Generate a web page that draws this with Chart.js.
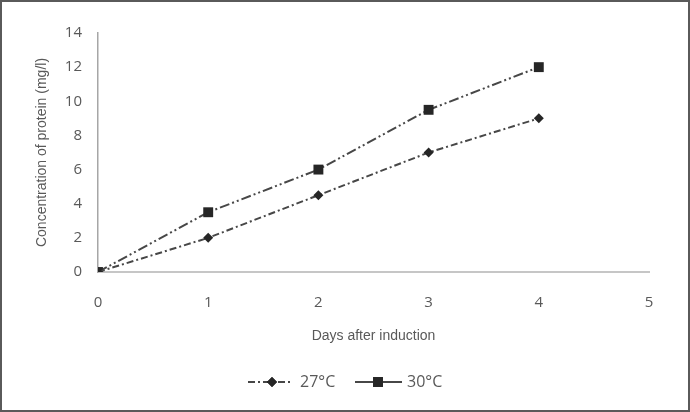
<!DOCTYPE html>
<html>
<head>
<meta charset="utf-8">
<script src="https://cdn.jsdelivr.net/npm/chart.js@4/dist/chart.umd.min.js"></script>
<style>
 html,body{margin:0;padding:0;background:#fff;}
 #wrap{position:relative;width:690px;height:412px;}
</style>
</head>
<body>
<div id="wrap"><canvas id="chart" width="690" height="412"></canvas></div>
<script>
// values
const days = [0, 1, 2, 3, 4];
const t27 = [0, 2, 4.5, 7, 9];
const t30 = [0, 3.5, 6, 9.5, 12];
const seriesNames = ['27°C', '30°C'];
const xTitle = 'Days after induction';
const yTitle = 'Concentration of protein (mg/l)';

const txt = '#595959';
const fam = '"Open Sans", "Liberation Sans", sans-serif';
const titleFam = '"Liberation Sans", Arial, sans-serif';
const pts = (ys) => days.map((d, i) => ({x: d, y: ys[i]}));

// frame + line/marker legend under the plot
const extras = {
 id: 'extras',
 afterDraw(c){
  const ctx = c.ctx;
  ctx.save();
  ctx.strokeStyle = '#5a5a5a'; ctx.lineWidth = 2;
  ctx.strokeRect(1, 1, 688, 410);
  const items = [[248, 272, 293, 300, [7, 3, 2, 3]], [355, 378, 402, 407, []]];
  const y = 382;
  c.data.datasets.forEach((ds, i) => {
   const [x0, xm, x1, tx, dash] = items[i];
   ctx.strokeStyle = ds.borderColor; ctx.lineWidth = ds.borderWidth;
   ctx.setLineDash(dash);
   ctx.beginPath(); ctx.moveTo(x0, y); ctx.lineTo(x1, y); ctx.stroke();
   ctx.setLineDash([]);
   Chart.helpers.drawPoint(ctx, {pointStyle: ds.pointStyle, radius: ds.pointRadius, borderWidth: 0}, xm, y);
   ctx.fillStyle = ds.pointBackgroundColor;
   ctx.fill();
   ctx.fillStyle = txt; ctx.font = '16px ' + fam; ctx.textBaseline = 'middle';
   ctx.fillText(ds.label, tx, y);
  });
  ctx.restore();
 }
};

new Chart(document.getElementById('chart'), {
 type: 'line',
 data: {
  datasets: [
   {label: seriesNames[0], data: pts(t27), borderColor: '#474747', borderWidth: 2,
    borderDash: [7, 3, 2, 3], pointStyle: 'rectRot', pointRadius: 5,
    pointBackgroundColor: '#262626', pointBorderWidth: 0},
   {label: seriesNames[1], data: pts(t30), borderColor: '#474747', borderWidth: 2,
    borderDash: [10, 3, 2, 3, 2, 3], pointStyle: 'rect', pointRadius: 7,
    pointBackgroundColor: '#262626', pointBorderWidth: 0}
  ]
 },
 options: {
  responsive: false, animation: false,
  layout: {padding: {left: 0, top: 33, right: 41, bottom: 60}},
  plugins: {legend: {display: false}, tooltip: {enabled: false}},
  scales: {
   x: {type: 'linear', min: 0, max: 5,
    ticks: {stepSize: 1, color: txt, font: {family: fam, size: 15}, padding: 22},
    grid: {display: false, drawTicks: false},
    border: {color: '#c6c6c6', width: 2},
    title: {display: true, text: xTitle, color: txt, font: {family: titleFam, size: 14}, padding: {top: 0, bottom: 7}},
    afterFit(s){ s.height = 80; }},
   y: {min: 0, max: 14,
    ticks: {stepSize: 2, color: txt, font: {family: fam, size: 15}, padding: 16},
    grid: {display: false, drawTicks: false},
    border: {color: '#a6a6a6', width: 1.5},
    title: {display: true, text: yTitle, color: txt, font: {family: titleFam, size: 14}, padding: {top: 34, bottom: 0}},
    afterFit(s){ s.width = 98; }}
  }
 },
 plugins: [extras]
});
</script>
</body>
</html>
